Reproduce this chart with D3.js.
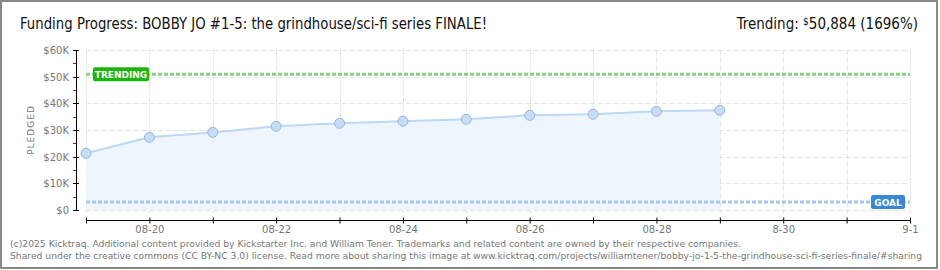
<!DOCTYPE html>
<html><head><meta charset="utf-8">
<script src="https://cdn.jsdelivr.net/npm/d3@7"></script>
<style>
html,body{margin:0;padding:0;background:#fff;}
svg{display:block;}
</style></head>
<body>
<svg id="c" width="940" height="270"></svg>
<script>
// ---- data ----
const dayLabels = ["08-19","08-20","08-21","08-22","08-23","08-24","08-25","08-26","08-27","08-28","08-29","08-30","08-31","09-01"];
const pledged = [21250, 27250, 29100, 31400, 32500, 33300, 34000, 35500, 35900, 37000, 37400];
const xTickIdx = [1,3,5,7,9,11,13];
const xTickLabels = ["08-20","08-22","08-24","08-26","08-28","8-30","9-1"];
const yTicks = [0,10000,20000,30000,40000,50000,60000];
const yTickLabels = ["$0","$10K","$20K","$30K","$40K","$50K","$60K"];
const yMinorTicks = [5000,15000,25000,35000,45000,55000];
const trending = 50884;
const goal = 3000;
const titleText = "Funding Progress: BOBBY JO #1-5: the grindhouse/sci-fi series FINALE!";
const footer1 = "(c)2025 Kicktraq. Additional content provided by Kickstarter Inc. and William Tener. Trademarks and related content are owned by their respective companies.";
const footer2 = "Shared under the creative commons (CC BY-NC 3.0) license. Read more about sharing this image at www.kicktraq.com/projects/williamtener/bobby-jo-1-5-the-grindhouse-sci-fi-series-finale/#sharing";

const svg = d3.select("#c");
const x = d3.scaleLinear().domain([0, dayLabels.length-1]).range([86, 910]);
const y = d3.scaleLinear().domain([0, 60000]).range([210, 50]);

// frame
svg.append("rect").attr("x",1).attr("y",1).attr("width",936).attr("height",267)
  .attr("fill","#fff").attr("stroke","#888").attr("stroke-width",2);

// title
svg.append("text").attr("x",20).attr("y",29).attr("font-family","'DejaVu Sans Condensed','DejaVu Sans',sans-serif")
  .attr("font-size",15).attr("font-weight",300).attr("fill","#111").attr("textLength",467).attr("lengthAdjust","spacingAndGlyphs").text(titleText);

const tr = svg.append("text").attr("x",918).attr("y",29).attr("text-anchor","end")
  .attr("font-family","'DejaVu Sans Condensed','DejaVu Sans',sans-serif").attr("font-size",15).attr("font-weight",300).attr("fill","#111");
tr.append("tspan").text("Trending:  ");
tr.append("tspan").attr("font-size",10).attr("dy",-4).text("$");
tr.append("tspan").attr("dy",4).text(d3.format(",")(trending) + " (" + Math.round(trending/goal*100) + "%)");

// gridlines
const grid = svg.append("g").attr("stroke","#e2e2e2").attr("stroke-dasharray","5,3").attr("stroke-width",1);
grid.selectAll("line.h").data(yTicks).join("line")
  .attr("x1",86).attr("x2",910).attr("y1",d=>Math.round(y(d))+0.5).attr("y2",d=>Math.round(y(d))+0.5);
grid.selectAll("line.v").data(d3.range(dayLabels.length)).join("line")
  .attr("x1",d=>Math.round(x(d))+0.5).attr("x2",d=>Math.round(x(d))+0.5).attr("y1",50).attr("y2",213);

// area + line
const area = d3.area().x((d,i)=>x(i)).y0(y(0)).y1(d=>y(d));
svg.append("path").datum(pledged).attr("d",area).attr("fill","#eef5fd");
const line = d3.line().x((d,i)=>x(i)).y(d=>y(d));
svg.append("path").datum(pledged).attr("d",line).attr("fill","none").attr("stroke","#bcd8f4").attr("stroke-width",2);

// trending & goal lines
svg.append("line").attr("x1",86).attr("x2",910).attr("y1",y(trending)).attr("y2",y(trending))
  .attr("stroke","#88d07f").attr("stroke-width",3).attr("stroke-dasharray","4,2");
svg.append("line").attr("x1",86).attr("x2",910).attr("y1",y(goal)).attr("y2",y(goal))
  .attr("stroke","#a6c6ec").attr("stroke-width",3).attr("stroke-dasharray","4,2");

// points
svg.selectAll("circle.p").data(pledged).join("circle")
  .attr("cx",(d,i)=>x(i)).attr("cy",d=>y(d)).attr("r",5)
  .attr("fill","#c6ddf8").attr("stroke","#9ab6d6").attr("stroke-width",1);

// labels
const lblFont = "'DejaVu Sans',sans-serif";
svg.append("rect").attr("x",93).attr("y",y(trending)-7).attr("width",56).attr("height",14).attr("rx",2)
  .attr("fill","#1cb50a");
svg.append("text").attr("x",121).attr("y",y(trending)+3.5).attr("text-anchor","middle")
  .attr("font-family",lblFont).attr("font-size",9).attr("font-weight","bold").attr("fill","#fff").text("TRENDING");
svg.append("rect").attr("x",871).attr("y",y(goal)-7).attr("width",34).attr("height",14).attr("rx",2)
  .attr("fill","#3a88d4");
svg.append("text").attr("x",888).attr("y",y(goal)+3.5).attr("text-anchor","middle")
  .attr("font-family",lblFont).attr("font-size",9).attr("font-weight","bold").attr("fill","#fff").text("GOAL");

// y axis
const yAxisG = svg.append("g");
yAxisG.append("line").attr("x1",76.5).attr("x2",76.5).attr("y1",50).attr("y2",211).attr("stroke","#000");
yAxisG.selectAll("line.mj").data(yTicks).join("line")
  .attr("x1",73).attr("x2",79).attr("y1",d=>Math.round(y(d))+0.5).attr("y2",d=>Math.round(y(d))+0.5).attr("stroke","#000");
yAxisG.selectAll("line.mn").data(yMinorTicks).join("line")
  .attr("x1",73).attr("x2",76).attr("y1",d=>Math.round(y(d))+0.5).attr("y2",d=>Math.round(y(d))+0.5).attr("stroke","#e00");
yAxisG.selectAll("text").data(yTicks).join("text")
  .attr("x",69).attr("y",d=>y(d)+4).attr("text-anchor","end")
  .attr("font-family",lblFont).attr("font-size",10).attr("fill","#777")
  .text((d,i)=>yTickLabels[i]);
svg.append("text").attr("transform","translate(34,130) rotate(-90)").attr("text-anchor","middle")
  .attr("font-family",lblFont).attr("font-size",9).attr("letter-spacing",1).attr("fill","#777").text("PLEDGED");

// x axis
const xAxis = d3.axisBottom(x).tickValues(d3.range(dayLabels.length)).tickSize(3)
  .tickFormat(d=>{const k=xTickIdx.indexOf(d); return k>=0?xTickLabels[k]:"";});
const xg = svg.append("g").attr("transform","translate(0,220.5)").call(xAxis);
xg.select(".domain").attr("d","M86,0H910").attr("stroke","#000");
xg.selectAll(".tick line").attr("y1",-3).attr("y2",3).attr("stroke","#000");
xg.selectAll(".tick text").attr("y",5).attr("font-family",lblFont).attr("font-size",10).attr("fill","#777");

// footer
const ftFont = "'DejaVu Sans Condensed','DejaVu Sans',sans-serif";
svg.append("text").attr("x",10).attr("y",247).attr("font-family",ftFont).attr("font-size",9.5).attr("fill","#777")
  .attr("textLength",731).attr("lengthAdjust","spacingAndGlyphs").text(footer1);
svg.append("text").attr("x",10).attr("y",259).attr("font-family",ftFont).attr("font-size",9).attr("fill","#777")
  .attr("textLength",912).attr("lengthAdjust","spacingAndGlyphs").text(footer2);
</script>
</body></html>
